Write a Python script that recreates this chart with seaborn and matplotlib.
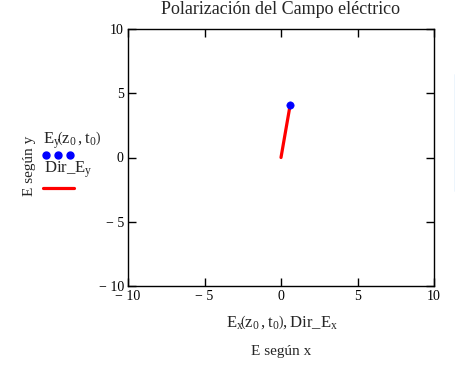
import matplotlib
matplotlib.use("Agg")
import matplotlib.pyplot as plt
import seaborn as sns
import pandas as pd
from matplotlib.lines import Line2D

sns.set_theme(style="white")
plt.rcParams['font.family'] = ['Liberation Serif', 'DejaVu Serif']
plt.rcParams['mathtext.fontset'] = 'custom'
plt.rcParams['mathtext.rm'] = 'Liberation Serif'
plt.rcParams['mathtext.it'] = 'Liberation Serif'

# Data
ex = [0.6]
ey = [4.1]
dir_x = [0.0, 0.6]
dir_y = [0.0, 4.1]
ticks = [-10, -5, 0, 5, 10]
tick_labels = ["\u2212 10", "\u2212 5", "0", "5", "10"]

fig = plt.figure(figsize=(4.56, 3.76), dpi=100)
ax = fig.add_axes([128/456, 1-286/376, 306/456, 257/376])

dfl = pd.DataFrame({"x": dir_x, "y": dir_y})
sns.lineplot(data=dfl, x="x", y="y", sort=False, color="#ff0000", lw=2.3, ax=ax)
dfp = pd.DataFrame({"x": ex, "y": ey})
sns.scatterplot(data=dfp, x="x", y="y", color="#0000ff", s=28, edgecolor="#0000ff", ax=ax, zorder=3)

ax.set_xlim(-10, 10)
ax.set_ylim(-10, 10)
ax.set_xticks(ticks)
ax.set_yticks(ticks)
ax.set_xticklabels(tick_labels, fontsize=10)
ax.set_yticklabels(tick_labels, fontsize=10)
ax.tick_params(direction="in", length=6, width=1, top=True, right=True,
               bottom=True, left=True, colors="black", pad=3)
for s in ax.spines.values():
    s.set_color("black")
    s.set_linewidth(1)
ax.set_xlabel("")
ax.set_ylabel("")

fig.text(281/456, 1-10/376, "Polarización del Campo eléctrico",
         ha="center", va="center", fontsize=13)
fig.text(282/456, 1-322/376, r"$\mathregular{E_x\!\left(z_0\,,t_0\right),Dir\_E_x}$",
         ha="center", va="center", fontsize=12)
fig.text(281/456, 1-351/376, "E según x", ha="center", va="center", fontsize=11)
fig.text(30/456, 1-166/376, "E según y", ha="center", va="center", fontsize=11, rotation=90)

# legend
fig.text(43/456, 1-140/376, r"$\mathregular{E_y\!\left(z_0\,,t_0\right)}$",
         ha="left", va="center", fontsize=12)
fig.add_artist(Line2D([46/456, 58/456, 70/456], [1-155/376]*3, ls="none",
                      marker="o", ms=5, color="#0000ff", transform=fig.transFigure))
fig.text(44/456, 1-170/376, r"$\mathregular{Dir\_E_y}$", ha="left", va="center", fontsize=12)
fig.add_artist(Line2D([43/456, 74/456], [1-188/376]*2, color="#ff0000", lw=2.3,
                      transform=fig.transFigure))
# side artifact line
fig.add_artist(Line2D([455/456, 455/456], [1-74/376, 1-191/376], color="#a8cff0", lw=1,
                      transform=fig.transFigure))

fig.savefig("out.png", dpi=100)
